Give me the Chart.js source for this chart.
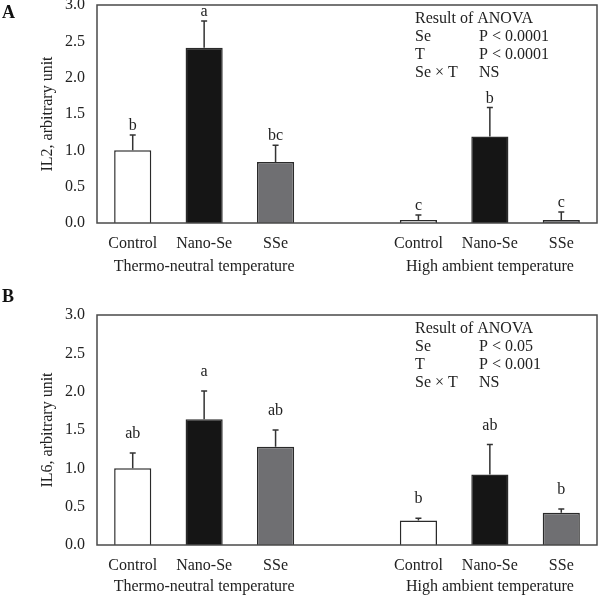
<!DOCTYPE html>
<html>
<head>
<meta charset="utf-8">
<script src="https://cdn.jsdelivr.net/npm/chart.js@4"></script>
<style>
  body { margin: 0; background: #fff; }
  .wrap { position: relative; width: 600px; height: 595px; }
  canvas { position: absolute; left: 0; }
  #chartA { top: 0; }
  #chartB { top: 285px; }
</style>
</head>
<body>
<div class="wrap">
  <canvas id="chartA" width="600" height="285"></canvas>
  <canvas id="chartB" width="600" height="310"></canvas>
</div>
<script>
// categories (index 3 is the empty slot between the two temperature groups)
const categories = ['Control', 'Nano-Se', 'SSe', '', 'Control', 'Nano-Se', 'SSe'];
const groupLabels = ['Thermo-neutral temperature', 'High ambient temperature'];
const groupCenters = [1, 5];
const yTicks = [0, 0.5, 1.0, 1.5, 2.0, 2.5, 3.0];

// panel A: IL2
const il2Means = [1.00, 2.41, 0.84, null, 0.04, 1.19, 0.04];
const il2Err = [0.21, 0.37, 0.23, null, 0.07, 0.40, 0.11];
const il2Letters = ['b', 'a', 'bc', '', 'c', 'b', 'c'];
const il2Anova = [['Result of ANOVA', ''], ['Se', 'P < 0.0001'], ['T', 'P < 0.0001'], ['Se \u00d7 T', 'NS']];

// panel B: IL6
const il6Means = [1.00, 1.64, 1.28, null, 0.32, 0.92, 0.42];
const il6Err = [0.20, 0.37, 0.22, null, 0.03, 0.39, 0.05];
const il6Letters = ['ab', 'a', 'ab', '', 'b', 'ab', 'b'];
const il6Anova = [['Result of ANOVA', ''], ['Se', 'P < 0.05'], ['T', 'P < 0.001'], ['Se \u00d7 T', 'NS']];

const FONT = '"Liberation Serif", "DejaVu Serif", serif';
const INK = '#222';
const fills = ['#ffffff', '#151515', '#6f6f72', '#ffffff', '#ffffff', '#151515', '#6f6f72'];

const extrasPlugin = {
  id: 'extras',
  afterDatasetsDraw(chart, args, opts) {
    const { ctx, chartArea: a, scales: { x, y } } = chart;
    const meta = chart.getDatasetMeta(0);
    ctx.save();
    // frame
    ctx.strokeStyle = '#4a4a4a';
    ctx.lineWidth = 1.5;
    ctx.strokeRect(a.left, a.top, a.right - a.left, a.bottom - a.top);

    // error bars + letters
    ctx.strokeStyle = '#333';
    ctx.lineWidth = 1.5;
    ctx.fillStyle = INK;
    ctx.font = '16px ' + FONT;
    ctx.textAlign = 'center';
    ctx.textBaseline = 'middle';
    opts.means.forEach((m, i) => {
      if (m == null) return;
      const bx = meta.data[i].x;
      const yb = y.getPixelForValue(m);
      const yt = y.getPixelForValue(m + opts.err[i]);
      ctx.beginPath();
      ctx.moveTo(bx, yb);
      ctx.lineTo(bx, yt);
      ctx.moveTo(bx - 3, yt);
      ctx.lineTo(bx + 3, yt);
      ctx.stroke();
      ctx.fillText(opts.letters[i], bx, yt - opts.letterGap);
    });

    // group labels
    groupLabels.forEach((g, k) => {
      ctx.fillText(g, x.getPixelForValue(groupCenters[k]), a.bottom + opts.groupGap);
    });

    // ANOVA block
    ctx.textAlign = 'left';
    opts.anova.forEach((row, r) => {
      const ty = a.top + 14 + r * 18;
      ctx.fillText(row[0], a.right - 182, ty);
      if (row[1]) ctx.fillText(row[1], a.right - 118, ty);
    });

    // panel letter
    ctx.font = 'bold 18px ' + FONT;
    ctx.fillStyle = '#111';
    ctx.fillText(opts.panel, 2, opts.panelY);
    ctx.restore();
  }
};

function makeChart(id, means, err, letters, anova, yTitle, opts) {
  return new Chart(document.getElementById(id), {
    type: 'bar',
    data: {
      labels: categories,
      datasets: [{
        data: means,
        backgroundColor: fills,
        borderColor: '#2a2a2a',
        borderWidth: 1.5,
        barPercentage: 0.52,
        categoryPercentage: 1.0
      }]
    },
    options: {
      responsive: false,
      animation: false,
      devicePixelRatio: 1,
      layout: { padding: { top: opts.top, right: 3, left: 0, bottom: 0 } },
      plugins: {
        legend: { display: false },
        tooltip: { enabled: false },
        extras: {
          means, err, letters, anova,
          letterGap: opts.letterGap,
          groupGap: opts.groupGap,
          panel: opts.panel,
          panelY: opts.panelY
        }
      },
      scales: {
        x: {
          grid: { display: false, drawTicks: false },
          border: { display: false },
          ticks: { color: INK, font: { family: FONT, size: 16 }, padding: 11, autoSkip: false, maxRotation: 0 },
          afterFit(s) { s.height = opts.xHeight; s.paddingLeft = 0; s.paddingRight = 0; }
        },
        y: {
          min: 0,
          max: 3,
          afterBuildTicks(s) { s.ticks = yTicks.map(v => ({ value: v })); },
          grid: { display: false, drawTicks: false },
          border: { display: false },
          ticks: {
            color: INK,
            font: { family: FONT, size: 16 },
            padding: 12,
            callback: v => v.toFixed(1)
          },
          title: {
            display: true,
            text: yTitle,
            color: INK,
            font: { family: FONT, size: 16 },
            padding: { top: 38, bottom: 0 }
          },
          afterFit(s) { s.width = 97; s.paddingTop = 0; s.paddingBottom = 0; }
        }
      }
    },
    plugins: [extrasPlugin]
  });
}

makeChart('chartA', il2Means, il2Err, il2Letters, il2Anova, 'IL2, arbitrary unit',
  { top: 5, xHeight: 62, letterGap: 9, groupGap: 44, panel: 'A', panelY: 13 });
makeChart('chartB', il6Means, il6Err, il6Letters, il6Anova, 'IL6, arbitrary unit',
  { top: 30, xHeight: 50, letterGap: 19, groupGap: 42, panel: 'B', panelY: 12 });
</script>
</body>
</html>
